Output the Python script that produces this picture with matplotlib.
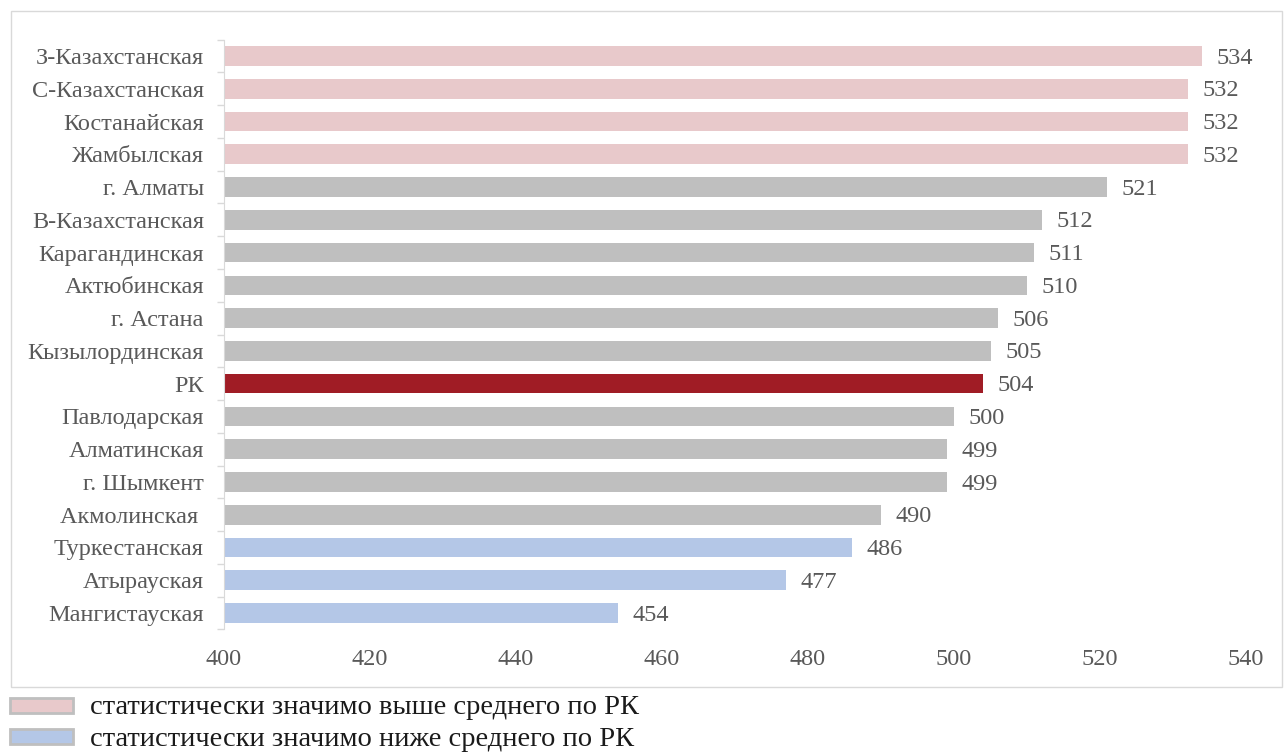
import matplotlib.pyplot as plt
from matplotlib.patches import Rectangle
import numpy as np

plt.rcParams['font.family'] = ['Liberation Serif', 'DejaVu Serif']

# regions, top to bottom
regions = ['З-Казахстанская', 'С-Казахстанская', 'Костанайская', 'Жамбылская',
           'г. Алматы', 'В-Казахстанская', 'Карагандинская', 'Актюбинская',
           'г. Астана', 'Кызылординская', 'РК', 'Павлодарская', 'Алматинская',
           'г. Шымкент', 'Акмолинская ', 'Туркестанская', 'Атырауская',
           'Мангистауская']
scores = [534, 532, 532, 532, 521, 512, 511, 510, 506, 505, 504, 500, 499,
          499, 490, 486, 477, 454]
# group: 'hi' above average, 'lo' below average, 'avg' national, 'ns' not significant
groups = ['hi', 'hi', 'hi', 'hi', 'ns', 'ns', 'ns', 'ns', 'ns', 'ns', 'avg',
          'ns', 'ns', 'ns', 'ns', 'lo', 'lo', 'lo']
x_ticks = [400, 420, 440, 460, 480, 500, 520, 540]
legend_labels = ['статистически значимо выше среднего по РК',
                 'статистически значимо ниже среднего по РК']

palette = {'hi': '#E8C9CB', 'lo': '#B4C7E7', 'avg': '#A01C25', 'ns': '#BFBFBF'}
text_col = '#595959'

W, H = 1286, 753
fig = plt.figure(figsize=(W / 100, H / 100), dpi=100)
ax = fig.add_axes([224 / W, 1 - 629.4 / H, (1246 - 224) / W, (629.4 - 39.6) / H])

y = np.arange(len(regions))
ax.barh(y, [s - 400 for s in scores], left=400, height=0.6,
        color=[palette[g] for g in groups])
for yi, s in zip(y, scores):
    ax.annotate(str(s), (s, yi), xytext=(10.5, -1.5), textcoords='offset points',
                ha='left', va='center', fontsize=17.5, color=text_col)

ax.set_xlim(400, 540)
ax.set_ylim(len(regions) - 0.5, -0.5)
ax.set_xticks(x_ticks)
ax.set_yticks(y)
ax.set_yticklabels(regions)
ax.set_yticks(np.arange(len(regions) + 1) - 0.5, minor=True)
ax.tick_params(axis='y', which='major', length=0, pad=14.5, labelsize=17.5,
               labelcolor=text_col)
ax.tick_params(axis='y', which='minor', length=5, color='#D9D9D9', width=1)
ax.tick_params(axis='x', length=0, pad=14, labelsize=17.5, labelcolor=text_col)

for side in ['top', 'right', 'bottom']:
    ax.spines[side].set_visible(False)
ax.spines['left'].set_color('#D9D9D9')

# chart frame
fig.patches.append(Rectangle((11 / W, 1 - 687 / H), (1282 - 11) / W, (687 - 11) / H,
                             transform=fig.transFigure, fill=False,
                             edgecolor='#D9D9D9', linewidth=1))

# legend under the frame
for i, (lab, g) in enumerate(zip(legend_labels, ['hi', 'lo'])):
    top = 698 + i * 31
    fig.patches.append(Rectangle((10 / W, 1 - (top + 15) / H), 63 / W, 15 / H,
                                 transform=fig.transFigure, facecolor=palette[g],
                                 edgecolor='#BFBFBF', linewidth=2))
    fig.text(90 / W, 1 - (top + 10) / H, lab, fontsize=20.5, color='#1A1A1A',
             va='center', ha='left')

fig.savefig('out.png', dpi=100)
